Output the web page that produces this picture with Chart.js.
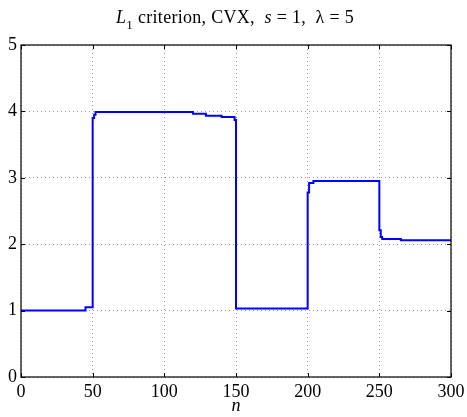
<!DOCTYPE html>
<html>
<head>
<meta charset="utf-8">
<script src="https://cdn.jsdelivr.net/npm/chart.js@4"></script>
<style>
  html, body { margin: 0; padding: 0; background: #fff; }
  #wrap { position: relative; width: 467px; height: 417px; }
  #title { position: absolute; left: 0; width: 470px; top: 8px; text-align: center; letter-spacing: 0.3px;
           font-family: "Liberation Serif", serif; font-size: 18px; line-height: 18px; color: #000; white-space: pre; }
  #title sub { font-size: 13px; line-height: 0; vertical-align: -6px; }
  canvas { position: absolute; left: 0; top: 0; }
</style>
</head>
<body>
<div id="wrap">
  <canvas id="c" width="467" height="417"></canvas>
  <div id="title"><i>L</i><sub>1</sub> criterion, CVX,  <i>s</i> = 1,  λ = 5</div>
</div>
<script>
// Step breakpoints: the signal takes value yValues[i] from nValues[i] on
const nValues = [0, 45, 50, 51, 52, 120, 129, 140, 149, 150, 200, 201, 204, 250, 251, 252, 265, 300];
const yValues = [1.00, 1.05, 3.90, 3.95, 3.99, 3.965, 3.935, 3.915, 3.87, 1.03, 2.78, 2.92, 2.95, 2.21, 2.11, 2.08, 2.06, 2.06];
const xTicks = [0, 50, 100, 150, 200, 250, 300];
const yTicks = [0, 1, 2, 3, 4, 5];

const points = nValues.map((n, i) => ({ x: n, y: yValues[i] }));
const serif = '"Liberation Serif", serif';

const boxPlugin = {
  id: 'box',
  afterDraw(chart) {
    const { ctx, chartArea: a, scales } = chart;
    ctx.save();
    ctx.strokeStyle = '#000';
    ctx.lineWidth = 1.2;
    ctx.strokeRect(a.left, a.top, a.right - a.left, a.bottom - a.top);
    ctx.lineWidth = 1;
    ctx.beginPath();
    xTicks.forEach(v => {
      const px = Math.round(scales.x.getPixelForValue(v)) + 0.5;
      ctx.moveTo(px, a.bottom); ctx.lineTo(px, a.bottom - 4);
      ctx.moveTo(px, a.top); ctx.lineTo(px, a.top + 4);
    });
    yTicks.forEach(v => {
      const py = Math.round(scales.y.getPixelForValue(v)) + 0.5;
      ctx.moveTo(a.left, py); ctx.lineTo(a.left + 4, py);
      ctx.moveTo(a.right, py); ctx.lineTo(a.right - 4, py);
    });
    ctx.stroke();
    ctx.restore();
  }
};

new Chart(document.getElementById('c'), {
  type: 'line',
  data: {
    datasets: [{
      data: points,
      stepped: 'before',
      borderColor: '#0000ff',
      borderWidth: 2,
      pointRadius: 0,
      fill: false
    }]
  },
  options: {
    responsive: false,
    animation: false,
    plugins: { legend: { display: false }, tooltip: { enabled: false }, title: { display: false } },
    layout: { padding: { top: 45, right: 16, left: 0, bottom: 0 } },
    scales: {
      x: {
        type: 'linear', min: 0, max: 300,
        afterBuildTicks: s => { s.ticks = xTicks.map(v => ({ value: v })); },
        afterFit: s => { s.height = 40; s.paddingLeft = 0; s.paddingRight = 0; },
        grid: { color: '#999', drawTicks: false, lineWidth: 1 },
        border: { display: false, dash: [1, 3] },
        ticks: { color: '#000', font: { family: serif, size: 18 }, padding: 4, maxRotation: 0 },
        title: { display: true, text: 'n', color: '#000', font: { family: serif, size: 18, style: 'italic' }, padding: { top: -2, bottom: 0 } }
      },
      y: {
        type: 'linear', min: 0, max: 5,
        afterBuildTicks: s => { s.ticks = yTicks.map(v => ({ value: v })); },
        afterFit: s => { s.width = 21; s.paddingTop = 0; s.paddingBottom = 0; },
        grid: { color: '#999', drawTicks: false, lineWidth: 1 },
        border: { display: false, dash: [1, 3] },
        ticks: { color: '#000', font: { family: serif, size: 18 }, padding: 4 }
      }
    }
  },
  plugins: [boxPlugin]
});
</script>
</body>
</html>
